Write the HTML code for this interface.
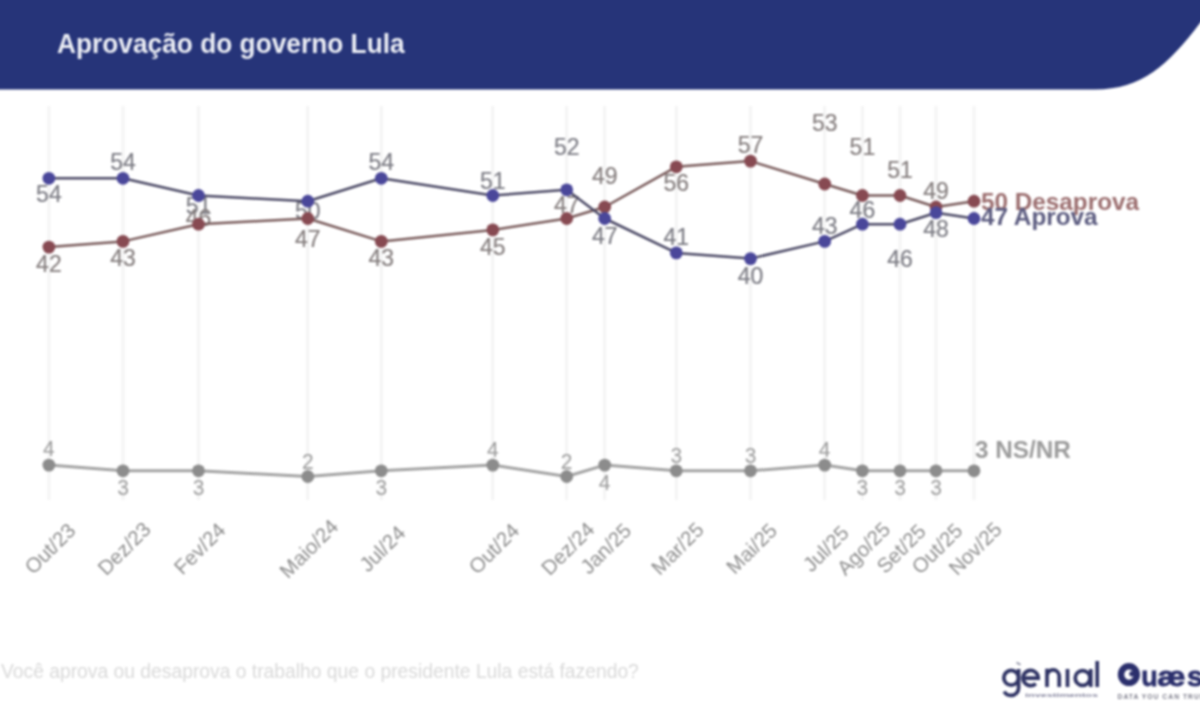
<!DOCTYPE html>
<html><head><meta charset="utf-8">
<style>
html,body{margin:0;padding:0;background:#fff;}
body{width:1200px;height:720px;overflow:hidden;position:relative;font-family:"Liberation Sans",sans-serif;}
svg{position:absolute;left:0;top:0;overflow:visible;filter:blur(0.85px);}
</style></head><body>
<svg width="1200" height="720" viewBox="0 0 1200 720" font-family="Liberation Sans, sans-serif">
<path d="M-12,-12 H1212 V8 L1200,23 C1168,65 1142,89.5 1095,89.5 H-12 Z" fill="#263479"/>
<text transform="translate(57,53.3) scale(1,1.065)" font-size="26.3" font-weight="bold" fill="#eceef5">Aprovação do governo Lula</text>

<g stroke="#f4f4f4" stroke-width="3">
<line x1="48.9" y1="106" x2="48.9" y2="500"/>
<line x1="123.0" y1="106" x2="123.0" y2="500"/>
<line x1="198.5" y1="106" x2="198.5" y2="500"/>
<line x1="307.8" y1="106" x2="307.8" y2="500"/>
<line x1="381.3" y1="106" x2="381.3" y2="500"/>
<line x1="492.8" y1="106" x2="492.8" y2="500"/>
<line x1="566.7" y1="106" x2="566.7" y2="500"/>
<line x1="604.7" y1="106" x2="604.7" y2="500"/>
<line x1="676.3" y1="106" x2="676.3" y2="500"/>
<line x1="750.5" y1="106" x2="750.5" y2="500"/>
<line x1="824.7" y1="106" x2="824.7" y2="500"/>
<line x1="862.4" y1="106" x2="862.4" y2="500"/>
<line x1="900.0" y1="106" x2="900.0" y2="500"/>
<line x1="936.0" y1="106" x2="936.0" y2="500"/>
<line x1="974.0" y1="106" x2="974.0" y2="500"/>
</g>
<polyline points="48.9,465.1 123.0,470.8 198.5,470.8 307.8,476.5 381.3,470.8 492.8,465.1 566.7,476.5 604.7,465.1 676.3,470.8 750.5,470.8 824.7,465.1 862.4,470.8 900.0,470.8 936.0,470.8 974.0,470.8" fill="none" stroke="#a3a3a3" stroke-width="3" stroke-linejoin="round"/>
<g fill="#8c8c8c">
<circle cx="48.9" cy="465.1" r="6.4"/>
<circle cx="123.0" cy="470.8" r="6.4"/>
<circle cx="198.5" cy="470.8" r="6.4"/>
<circle cx="307.8" cy="476.5" r="6.4"/>
<circle cx="381.3" cy="470.8" r="6.4"/>
<circle cx="492.8" cy="465.1" r="6.4"/>
<circle cx="566.7" cy="476.5" r="6.4"/>
<circle cx="604.7" cy="465.1" r="6.4"/>
<circle cx="676.3" cy="470.8" r="6.4"/>
<circle cx="750.5" cy="470.8" r="6.4"/>
<circle cx="824.7" cy="465.1" r="6.4"/>
<circle cx="862.4" cy="470.8" r="6.4"/>
<circle cx="900.0" cy="470.8" r="6.4"/>
<circle cx="936.0" cy="470.8" r="6.4"/>
<circle cx="974.0" cy="470.8" r="6.4"/>
</g>
<g fill="#9c9c9c" stroke="#9c9c9c" stroke-width="0" font-size="21" text-anchor="middle">
<text transform="translate(48.9,448.5) scale(1,1.05)" y="7.52">4</text>
<text transform="translate(123.0,487.0) scale(1,1.05)" y="7.52">3</text>
<text transform="translate(198.5,486.6) scale(1,1.05)" y="7.52">3</text>
<text transform="translate(307.8,460.6) scale(1,1.05)" y="7.52">2</text>
<text transform="translate(381.3,486.6) scale(1,1.05)" y="7.52">3</text>
<text transform="translate(492.8,448.7) scale(1,1.05)" y="7.52">4</text>
<text transform="translate(566.7,460.6) scale(1,1.05)" y="7.52">2</text>
<text transform="translate(604.7,482.3) scale(1,1.05)" y="7.52">4</text>
<text transform="translate(676.3,455.2) scale(1,1.05)" y="7.52">3</text>
<text transform="translate(750.5,454.9) scale(1,1.05)" y="7.52">3</text>
<text transform="translate(824.7,449.5) scale(1,1.05)" y="7.52">4</text>
<text transform="translate(862.4,487.4) scale(1,1.05)" y="7.52">3</text>
<text transform="translate(900.0,487.4) scale(1,1.05)" y="7.52">3</text>
<text transform="translate(936.0,487.4) scale(1,1.05)" y="7.52">3</text>
</g>
<g fill="#7c7c84" stroke="#7c7c84" stroke-width="0.2" font-size="23" text-anchor="middle">
<text transform="translate(48.9,193.8) scale(1,1.05)" y="8.23">54</text>
<text transform="translate(123.0,161.7) scale(1,1.05)" y="8.23">54</text>
<text transform="translate(198.5,205.0) scale(1,1.05)" y="8.23">51</text>
<text transform="translate(307.8,210.0) scale(1,1.05)" y="8.23">50</text>
<text transform="translate(381.3,161.4) scale(1,1.05)" y="8.23">54</text>
<text transform="translate(492.8,180.0) scale(1,1.05)" y="8.23">51</text>
<text transform="translate(566.7,146.7) scale(1,1.05)" y="8.23">52</text>
<text transform="translate(604.7,235.2) scale(1,1.05)" y="8.23">47</text>
<text transform="translate(676.3,236.7) scale(1,1.05)" y="8.23">41</text>
<text transform="translate(750.5,275.0) scale(1,1.05)" y="8.23">40</text>
<text transform="translate(824.7,225.6) scale(1,1.05)" y="8.23">43</text>
<text transform="translate(862.4,209.4) scale(1,1.05)" y="8.23">46</text>
<text transform="translate(900.0,258.5) scale(1,1.05)" y="8.23">46</text>
<text transform="translate(936.0,228.6) scale(1,1.05)" y="8.23">48</text>
</g>
<g fill="#857e7e" stroke="#857e7e" stroke-width="0.2" font-size="23" text-anchor="middle">
<text transform="translate(48.9,263.8) scale(1,1.05)" y="8.23">42</text>
<text transform="translate(123.0,257.7) scale(1,1.05)" y="8.23">43</text>
<text transform="translate(198.5,217.5) scale(1,1.05)" y="8.23">46</text>
<text transform="translate(307.8,238.8) scale(1,1.05)" y="8.23">47</text>
<text transform="translate(381.3,257.7) scale(1,1.05)" y="8.23">43</text>
<text transform="translate(492.8,246.0) scale(1,1.05)" y="8.23">45</text>
<text transform="translate(566.7,204.2) scale(1,1.05)" y="8.23">47</text>
<text transform="translate(604.7,175.0) scale(1,1.05)" y="8.23">49</text>
<text transform="translate(676.3,182.5) scale(1,1.05)" y="8.23">56</text>
<text transform="translate(750.5,144.0) scale(1,1.05)" y="8.23">57</text>
<text transform="translate(824.7,122.6) scale(1,1.05)" y="8.23">53</text>
<text transform="translate(862.4,146.0) scale(1,1.05)" y="8.23">51</text>
<text transform="translate(900.0,169.0) scale(1,1.05)" y="8.23">51</text>
<text transform="translate(936.0,190.7) scale(1,1.05)" y="8.23">49</text>
</g>
<polyline points="48.9,247.1 123.0,241.4 198.5,224.2 307.8,218.5 381.3,241.4 492.8,229.9 566.7,218.5 604.7,207.0 676.3,166.8 750.5,161.1 824.7,184.0 862.4,195.5 900.0,195.5 936.0,207.0 974.0,201.2" fill="none" stroke="#7a5c5c" stroke-width="2.5" stroke-linejoin="round"/>
<g fill="#874a52">
<circle cx="48.9" cy="247.1" r="6.4"/>
<circle cx="123.0" cy="241.4" r="6.4"/>
<circle cx="198.5" cy="224.2" r="6.4"/>
<circle cx="307.8" cy="218.5" r="6.4"/>
<circle cx="381.3" cy="241.4" r="6.4"/>
<circle cx="492.8" cy="229.9" r="6.4"/>
<circle cx="566.7" cy="218.5" r="6.4"/>
<circle cx="604.7" cy="207.0" r="6.4"/>
<circle cx="676.3" cy="166.8" r="6.4"/>
<circle cx="750.5" cy="161.1" r="6.4"/>
<circle cx="824.7" cy="184.0" r="6.4"/>
<circle cx="862.4" cy="195.5" r="6.4"/>
<circle cx="900.0" cy="195.5" r="6.4"/>
<circle cx="936.0" cy="207.0" r="6.4"/>
<circle cx="974.0" cy="201.2" r="6.4"/>
</g>
<polyline points="48.9,178.3 123.0,178.3 198.5,195.5 307.8,201.2 381.3,178.3 492.8,195.5 566.7,189.8 604.7,218.5 676.3,252.9 750.5,258.6 824.7,241.4 862.4,224.2 900.0,224.2 936.0,212.7 974.0,218.5" fill="none" stroke="#4c4a66" stroke-width="2.5" stroke-linejoin="round"/>
<g fill="#4a479a">
<circle cx="48.9" cy="178.3" r="6.4"/>
<circle cx="123.0" cy="178.3" r="6.4"/>
<circle cx="198.5" cy="195.5" r="6.4"/>
<circle cx="307.8" cy="201.2" r="6.4"/>
<circle cx="381.3" cy="178.3" r="6.4"/>
<circle cx="492.8" cy="195.5" r="6.4"/>
<circle cx="566.7" cy="189.8" r="6.4"/>
<circle cx="604.7" cy="218.5" r="6.4"/>
<circle cx="676.3" cy="252.9" r="6.4"/>
<circle cx="750.5" cy="258.6" r="6.4"/>
<circle cx="824.7" cy="241.4" r="6.4"/>
<circle cx="862.4" cy="224.2" r="6.4"/>
<circle cx="900.0" cy="224.2" r="6.4"/>
<circle cx="936.0" cy="212.7" r="6.4"/>
<circle cx="974.0" cy="218.5" r="6.4"/>
</g>
<text x="981" y="210" font-size="24.3" font-weight="bold" fill="#9c6f70">50 Desaprova</text>
<text x="981" y="224.5" font-size="24.3" font-weight="bold" fill="#5c5c80">47 Aprova</text>
<text x="975" y="457.5" font-size="24.3" font-weight="bold" fill="#9c9c9c">3 NS/NR</text>
<g fill="#8e8e8e" font-size="20.5" text-anchor="middle">
<text transform="translate(55.0,553.6) rotate(-45)">Out/23</text>
<text transform="translate(129.1,553.6) rotate(-45)">Dez/23</text>
<text transform="translate(204.6,553.6) rotate(-45)">Fev/24</text>
<text transform="translate(313.9,553.6) rotate(-45)">Maio/24</text>
<text transform="translate(387.4,553.6) rotate(-45)">Jul/24</text>
<text transform="translate(498.9,553.6) rotate(-45)">Out/24</text>
<text transform="translate(572.8,553.6) rotate(-45)">Dez/24</text>
<text transform="translate(610.8,553.6) rotate(-45)">Jan/25</text>
<text transform="translate(682.4,553.6) rotate(-45)">Mar/25</text>
<text transform="translate(756.6,553.6) rotate(-45)">Mai/25</text>
<text transform="translate(830.8,553.6) rotate(-45)">Jul/25</text>
<text transform="translate(868.5,553.6) rotate(-45)">Ago/25</text>
<text transform="translate(906.1,553.6) rotate(-45)">Set/25</text>
<text transform="translate(942.1,553.6) rotate(-45)">Out/25</text>
<text transform="translate(980.1,553.6) rotate(-45)">Nov/25</text>
</g>
<text x="1" y="678" font-size="19.3" fill="#d9d9d9">Você aprova ou desaprova o trabalho que o presidente Lula está fazendo?</text>
<g fill="none" stroke="#2f3364" stroke-width="3.7" stroke-linecap="butt">
<circle cx="1011.2" cy="677.8" r="7.4"/>
<path d="M1018.6,669 V688 A7.4,7.4 0 0 1 1011.2,695.4 A7.4,7.4 0 0 1 1004.2,691.5"/>
<path d="M1022.6,678.2 H1038.2 A7.6,7.6 0 1 0 1035.8,683.6"/>
<path d="M1047,668.8 V687 M1047,676 A6.1,6.1 0 0 1 1059.2,676 V687"/>
<path d="M1067.5,669 V687"/>
<circle cx="1082.6" cy="678" r="7.4"/>
<path d="M1090.8,669 V687"/>
<path d="M1097.2,661 V687"/>
</g>
<path d="M1016.5,662.5 L1020.5,664.8" stroke="#8a8ca0" stroke-width="1.6"/>
<text x="1025" y="696.6" font-size="6" font-weight="bold" fill="#80809a" textLength="73" lengthAdjust="spacingAndGlyphs">investimentos</text>
<ellipse cx="1128.9" cy="674.6" rx="7.9" ry="8.3" fill="none" stroke="#2b2f6c" stroke-width="6.4"/>
<circle cx="1131.8" cy="673.8" r="2.6" fill="#2b2f6c"/>
<g font-size="29" font-weight="bold" fill="#2b2f6c" stroke="#2b2f6c" stroke-width="0.8"><text transform="translate(1141.2,686.3) scale(0.93,0.97)">u</text><text transform="translate(1157.3,686.3) scale(1.1,0.97)">æ</text><text transform="translate(1187,686.3) scale(1,0.97)">s</text></g>
<text x="1117.5" y="698.5" font-size="6.7" font-weight="bold" fill="#7c7c8a" letter-spacing="1.05">DATA YOU CAN TRUST</text>

</svg></body></html>
